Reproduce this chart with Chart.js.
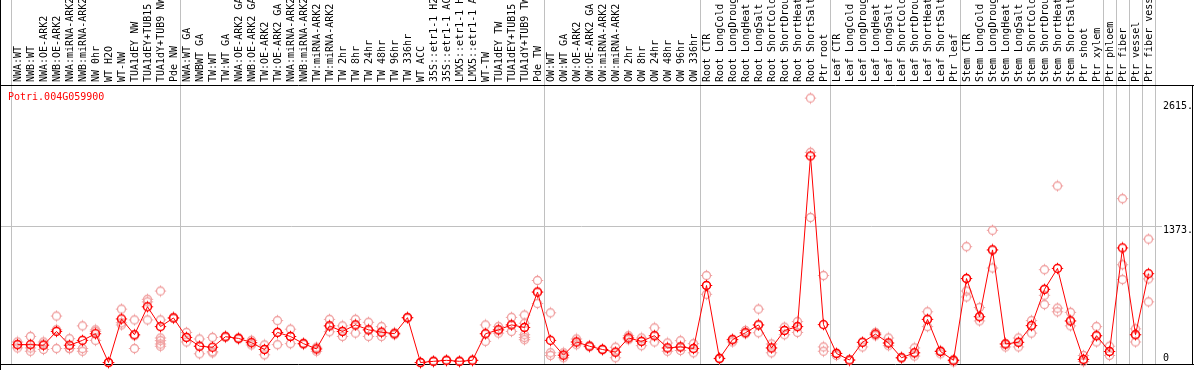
<!DOCTYPE html>
<html>
<head>
<meta charset="utf-8">
<script src="https://cdn.jsdelivr.net/npm/chart.js@4/dist/chart.umd.min.js"></script>
<style>
  body { margin: 0; background: #fff; }
  #wrap { width: 1194px; height: 370px; }
</style>
</head>
<body>
<div id="wrap"><canvas id="chart" width="1194" height="370"></canvas></div>
<script>
// sample names, left to right
const labels = [
  'NWA:WT', 'NWB:WT', 'NWA:OE-ARK2', 'NWB:OE-ARK2', 'NWA:miRNA-ARK2', 'NWB:miRNA-ARK2',
  'NW 0hr', 'WT H2O', 'WT-NW', 'TUA1dEY NW', 'TUA1dEY+TUB15 NW', 'TUA1dY+TUB9 NW', 'Pde NW',
  'NWA:WT GA', 'NWBWT GA', 'TW:WT', 'TW:WT GA', 'NWA:OE-ARK2 GA', 'NWB:OE-ARK2 GA',
  'TW:OE-ARK2', 'TW:OE-ARK2 GA', 'NWA:miRNA-ARK2', 'NWB:miRNA-ARK2', 'TW:miRNA-ARK2', 'TW:miRNA-ARK2',
  'TW 2hr', 'TW 8hr', 'TW 24hr', 'TW 48hr', 'TW 96hr', 'TW 336hr', 'WT ACC',
  '35S::etr1-1 H2O', '35S::etr1-1 ACC', 'LMX5::etr1-1 H2O', 'LMX5::etr1-1 ACC',
  'WT-TW', 'TUA1dEY TW', 'TUA1dEY+TUB15 TW', 'TUA1dY+TUB9 TW', 'Pde TW',
  'OW:WT', 'OW:WT GA', 'OW:OE-ARK2', 'OW:OE-ARK2 GA', 'OW:miRNA-ARK2', 'OW:miRNA-ARK2',
  'OW 2hr', 'OW 8hr', 'OW 24hr', 'OW 48hr', 'OW 96hr', 'OW 336hr',
  'Root CTR', 'Root LongCold', 'Root LongDrought', 'Root LongHeat', 'Root LongSalt',
  'Root ShortCold', 'Root ShortDrought', 'Root ShortHeat', 'Root ShortSalt', 'Ptr root',
  'Leaf CTR', 'Leaf LongCold', 'Leaf LongDrought', 'Leaf LongHeat', 'Leaf LongSalt',
  'Leaf ShortCold', 'Leaf ShortDrought', 'Leaf ShortHeat', 'Leaf ShortSalt', 'Ptr leaf',
  'Stem CTR', 'Stem LongCold', 'Stem LongDrought', 'Stem LongHeat', 'Stem LongSalt',
  'Stem ShortCold', 'Stem ShortDrought', 'Stem ShortHeat', 'Stem ShortSalt',
  'Ptr shoot', 'Ptr xylem', 'Ptr phloem', 'Ptr fiber', 'Ptr vessel', 'Ptr fiber vessel'
];

// mean expression per sample
const means = [
  180, 180, 174, 313, 174, 223, 290, 0, 439, 280, 561, 362, 449,
  253, 164, 154, 260, 243, 200, 131, 303, 262, 190, 137, 369, 313, 379, 329, 306, 290, 452,
  0, 12, 22, 12, 22, 290, 329, 379, 353, 710,
  223, 74, 207, 164, 131, 104, 247, 213, 270, 147, 157, 141,
  776, 41, 230, 300, 379, 147, 323, 362, 2080, 382,
  91, 25, 204, 286, 197, 48, 98, 435, 111, 22,
  846, 462, 1134, 187, 204, 372, 737, 948, 419, 31, 270,
  111, 1154, 280, 895
];

// replicate values per sample
const replicates = [
  [207, 180, 147], [263, 147, 114], [207, 185, 131], [468, 330, 141], [240, 141, 141],
  [369, 141, 114], [329, 313, 223], [0, 0, 0], [538, 400, 379], [429, 270, 141],
  [637, 611, 429], [720, 429, 247, 220, 187, 164], [455, 449, 445],
  [303, 253, 207], [237, 164, 88], [253, 110, 98], [265, 260, 255], [250, 243, 236],
  [223, 200, 177], [177, 131, 78], [422, 303, 180], [336, 262, 190], [195, 190, 185],
  [154, 137, 114], [435, 369, 310], [369, 313, 263], [435, 379, 296], [405, 329, 263],
  [362, 306, 263], [300, 290, 280], [455, 452, 449], [0, 0, 0], [15, 12, 9],
  [25, 22, 19], [15, 12, 9], [25, 22, 19], [379, 290, 213], [362, 329, 296],
  [455, 379, 313], [478, 396, 353, 280, 253, 230], [826, 710, 594],
  [501, 98, 71], [98, 74, 48], [237, 207, 180], [170, 164, 158], [135, 131, 127],
  [154, 104, 48], [270, 247, 230], [247, 213, 170], [349, 270, 207], [197, 147, 114],
  [220, 157, 121], [190, 141, 98],
  [876, 776, 687], [45, 41, 37], [235, 230, 207], [323, 300, 290], [538, 379, 300],
  [187, 147, 98], [356, 323, 280], [412, 362, 303], [2663, 2117, 1461], [876, 157, 114],
  [95, 91, 71], [28, 25, 22], [204, 157], [303, 286, 270], [247, 197, 170],
  [52, 48, 44], [147, 98, 65], [511, 435, 362], [120, 111, 88], [30, 22, 6],
  [1167, 846, 720, 660], [554, 462, 419], [1332, 1134, 952], [190, 187, 157],
  [247, 204, 157], [422, 372, 296], [935, 737, 677, 584], [1779, 548, 511],
  [505, 419, 369], [71, 31, 10], [362, 270, 207],
  [164, 111, 71], [1650, 985, 836], [339, 280, 207], [1243, 842, 611]
];

// first sample index of each group (last entry closes the final group)
const groupStarts = [0, 13, 41, 53, 63, 73, 84, 85, 86, 87, 88];

const tickValues = [0, 1373, 2615];
const tickLabels = ['0', '1373.', '2615.'];

const MONO = '"DejaVu Sans Mono", "Liberation Mono", monospace';

// ring marker with tiny bumps, like the original plot symbols
function marker(color, lw) {
  const c = document.createElement('canvas');
  c.width = 13; c.height = 13;
  const g = c.getContext('2d');
  g.strokeStyle = color;
  g.lineWidth = lw;
  g.beginPath();
  g.arc(6.5, 6.5, 4, 0, Math.PI * 2);
  g.stroke();
  g.lineWidth = 1;
  g.beginPath();
  g.moveTo(6.5, 0.8); g.lineTo(6.5, 2);
  g.moveTo(6.5, 11); g.lineTo(6.5, 12.2);
  g.moveTo(0.8, 6.5); g.lineTo(2, 6.5);
  g.moveTo(11, 6.5); g.lineTo(12.2, 6.5);
  g.stroke();
  return c;
}
const meanMarker = marker('#ff0000', 1.5);
const repMarker = marker('#f0a0a0', 1.3);

const maxReps = Math.max(...replicates.map(r => r.length));
const repSets = [];
for (let k = 0; k < maxReps; k++) {
  repSets.push({
    data: replicates.map(r => (r[k] === undefined ? null : r[k])),
    showLine: false,
    pointStyle: repMarker,
    pointRadius: 5,
    clip: false
  });
}

// grey group separators, the 1373 line, black frame and gene title
const framePlugin = {
  id: 'frame',
  beforeDatasetsDraw(chart) {
    const { ctx, chartArea, scales } = chart;
    const x = scales.x, y = scales.y;
    const half = (x.getPixelForValue(1) - x.getPixelForValue(0)) / 2;
    ctx.save();
    ctx.lineWidth = 1;
    ctx.strokeStyle = '#c0c0c0';
    ctx.beginPath();
    groupStarts.forEach(i => {
      const px = Math.round(x.getPixelForValue(i) - half) + 0.5;
      ctx.moveTo(px, 0);
      ctx.lineTo(px, chartArea.bottom);
    });
    const gy = Math.round(y.getPixelForValue(tickValues[1])) + 0.5;
    ctx.moveTo(1, gy);
    ctx.lineTo(chartArea.right + 7, gy);
    ctx.stroke();

    ctx.strokeStyle = '#000';
    ctx.beginPath();
    ctx.moveTo(0, chartArea.top + 0.5); ctx.lineTo(chart.width, chartArea.top + 0.5);
    ctx.moveTo(0, chartArea.bottom + 0.5); ctx.lineTo(chart.width, chartArea.bottom + 0.5);
    ctx.moveTo(0.5, 0); ctx.lineTo(0.5, chart.height);
    ctx.moveTo(chart.width - 1.5, chartArea.top); ctx.lineTo(chart.width - 1.5, chartArea.bottom);
    ctx.stroke();

    ctx.fillStyle = '#ff0000';
    ctx.font = '10px ' + MONO;
    ctx.textBaseline = 'middle';
    ctx.fillText('Potri.004G059900', 8, chartArea.top + 12);
    ctx.restore();
  }
};

new Chart(document.getElementById('chart'), {
  type: 'line',
  data: {
    labels: labels,
    datasets: [{
      data: means,
      borderColor: '#ff0000',
      borderWidth: 1,
      tension: 0,
      fill: false,
      pointStyle: meanMarker,
      pointRadius: 5,
      clip: false
    }, ...repSets]
  },
  options: {
    responsive: false,
    animation: false,
    devicePixelRatio: 1,
    layout: { padding: { left: 11, right: 0, top: 0, bottom: 2 } },
    plugins: {
      legend: { display: false },
      tooltip: { enabled: false }
    },
    scales: {
      x: {
        position: 'top',
        offset: true,
        grid: { display: false, drawTicks: false },
        border: { display: false },
        ticks: {
          autoSkip: false,
          minRotation: 90,
          maxRotation: 90,
          padding: 3,
          labelOffset: 12.5,
          color: '#000',
          font: { family: MONO, size: 10 }
        },
        afterFit: s => {
          s.height = 85;
          s.paddingLeft = 0;
          s.paddingRight = 0;
        }
      },
      y: {
        position: 'right',
        min: -15,
        max: 2795,
        grid: { display: false, drawTicks: false },
        border: { display: false },
        afterBuildTicks: s => { s.ticks = tickValues.map(v => ({ value: v })); },
        ticks: {
          padding: 8,
          color: '#000',
          font: { family: MONO, size: 10, lineHeight: 0.8 },
          // two-line trick nudges labels like the original: 0 sits above its line, others below
          callback: v => {
            const t = tickLabels[tickValues.indexOf(v)];
            return v === 0 ? [t, ''] : ['', t];
          }
        },
        afterFit: s => {
          s.width = 39;
          s.paddingTop = 0;
          s.paddingBottom = 0;
        }
      }
    }
  },
  plugins: [framePlugin]
});
</script>
</body>
</html>
